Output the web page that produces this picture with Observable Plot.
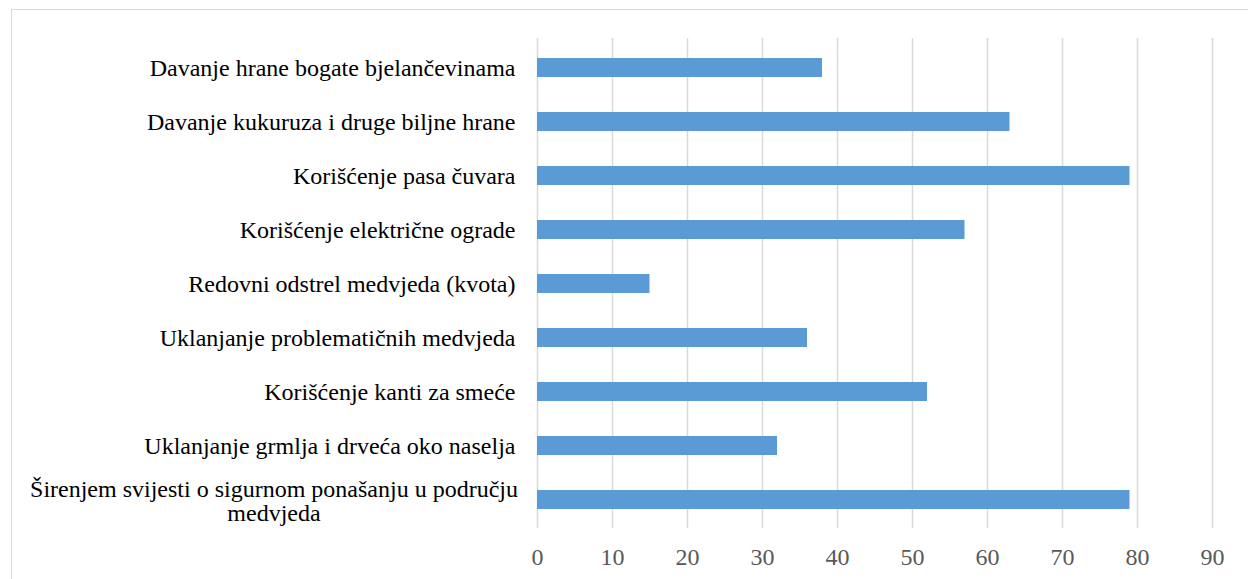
<!DOCTYPE html>
<html>
<head>
<meta charset="utf-8">
<script src="https://cdn.jsdelivr.net/npm/d3@7"></script>
<script src="https://cdn.jsdelivr.net/npm/@observablehq/plot@0.6"></script>
<style>
  html, body { margin: 0; padding: 0; background: #fff; }
  #wrap { position: relative; width: 1248px; height: 579px; overflow: hidden; }
  #frame { position: absolute; left: 11px; top: 9px; width: 1260px; height: 640px; border: 1px solid #d9d9d9; box-sizing: border-box; }
  #chart { position: absolute; left: 0; top: 0; }
  #chart svg, #chart svg text { font-family: "Liberation Serif", "Times New Roman", serif !important; }
</style>
</head>
<body>
<div id="wrap">
  <div id="frame"></div>
  <div id="chart"></div>
</div>
<script>
const categories = [
  "Davanje hrane bogate bjelančevinama",
  "Davanje kukuruza i druge biljne hrane",
  "Korišćenje pasa čuvara",
  "Korišćenje električne ograde",
  "Redovni odstrel medvjeda (kvota)",
  "Uklanjanje problematičnih medvjeda",
  "Korišćenje kanti za smeće",
  "Uklanjanje grmlja i drveća oko naselja",
  "Širenjem svijesti o sigurnom ponašanju u području\nmedvjeda"
];
const values = [38, 63, 79, 57, 15, 36, 52, 32, 79];
const xTicks = [0, 10, 20, 30, 40, 50, 60, 70, 80, 90];

const data = categories.map((c, i) => ({cat: c, value: values[i], multi: c.includes("\n")}));

const font = "Liberation Serif";

const plot = Plot.plot({
  width: 1248,
  height: 579,
  marginLeft: 537,
  marginRight: 36,
  marginTop: 38,
  marginBottom: 51,
  style: {fontFamily: font, background: "transparent"},
  x: {domain: [0, 90], ticks: xTicks, label: null},
  y: {domain: categories, paddingInner: 0.65, paddingOuter: 0.325, axis: null},
  marks: [
    Plot.ruleX(xTicks, {stroke: "#d9d9d9", strokeWidth: 1.5}),
    Plot.barX(data, {y: "cat", x: "value", fill: "#5b9bd5"}),
    Plot.axisX({ticks: xTicks, tickSize: 0, tickPadding: 19, fontSize: 24, fill: "#595959", label: null}),
    Plot.text(data.filter(d => !d.multi), {
      y: "cat", text: "cat", frameAnchor: "left", dx: -22, textAnchor: "end",
      fontSize: 24, fill: "#000"
    }),
    Plot.text(data.filter(d => d.multi), {
      y: "cat", text: "cat", frameAnchor: "left", dx: -263.5, dy: 1, textAnchor: "middle",
      fontSize: 24, lineHeight: 1.04, fill: "#000"
    })
  ]
});
document.getElementById("chart").appendChild(plot);
</script>
</body>
</html>
